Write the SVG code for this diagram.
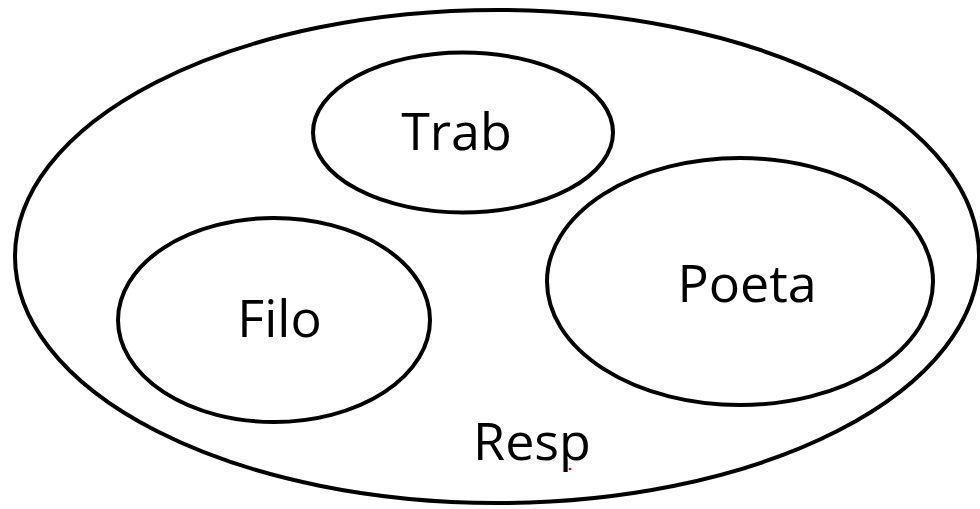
<svg xmlns="http://www.w3.org/2000/svg" width="980" height="509" viewBox="0 0 980 509">
  <style>
    .set { fill: none; stroke: #000; stroke-width: 4; }
    .label { font-family: "Open Sans", "Liberation Sans", sans-serif; font-size: 52px; fill: #000; text-anchor: middle; }
  </style>
  <rect width="980" height="509" fill="#fff"/>

  <!-- outer set -->
  <g id="resp">
    <ellipse class="set" cx="497" cy="256.5" rx="482" ry="246.5"/>
    <text class="label" x="532" y="460">Resp</text>
    <circle cx="570" cy="469" r="1.3" fill="#e00"/>
  </g>

  <g id="trab">
    <ellipse class="set" cx="463" cy="132.5" rx="150" ry="80"/>
    <text class="label" x="456.5" y="150">Trab</text>
  </g>

  <g id="filo">
    <ellipse class="set" cx="274" cy="320" rx="156" ry="102"/>
    <text class="label" x="279.5" y="337">Filo</text>
  </g>

  <g id="poeta">
    <ellipse class="set" cx="740" cy="281.5" rx="193" ry="123.5"/>
    <text class="label" x="747" y="302">Poeta</text>
  </g>

  <g id="connectors"/>
</svg>
